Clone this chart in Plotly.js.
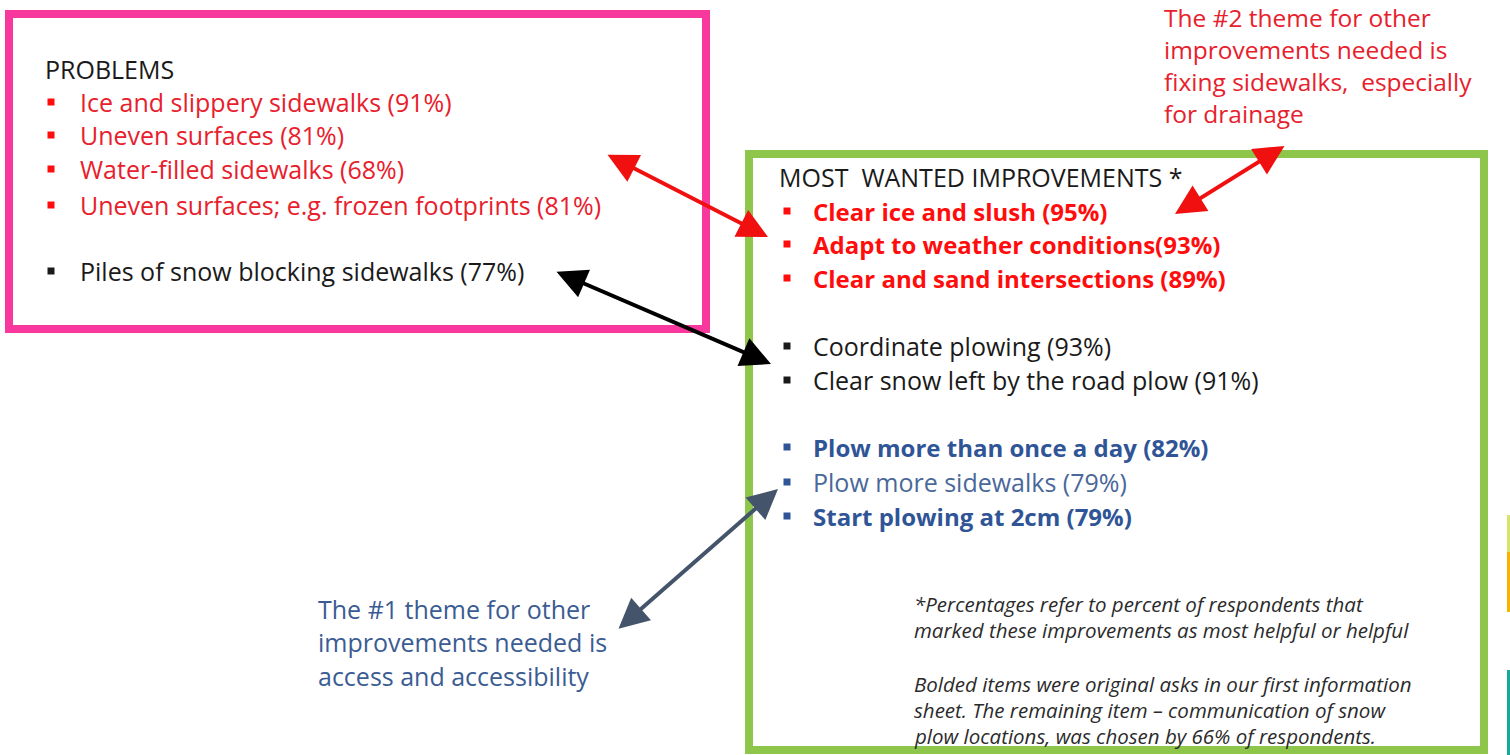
<!DOCTYPE html>
<html>
<head>
<meta charset="utf-8">
<script src="https://cdn.plot.ly/plotly-3.0.1.min.js"></script>
<style>html,body{margin:0;padding:0;background:#fff;}#chart{width:1510px;height:755px;}</style>
</head>
<body>
<div id="chart"></div>
<script>
// ---- content (text items) ----
const problemsHeader = "PROBLEMS";
const problemsRed = [
  "Ice and slippery sidewalks (91%)",
  "Uneven surfaces (81%)",
  "Water-filled sidewalks (68%)",
  "Uneven surfaces; e.g. frozen footprints (81%)"
];
const problemsBlack = ["Piles of snow blocking sidewalks (77%)"];

const improvementsHeader = "MOST  WANTED IMPROVEMENTS *";
const improvementsRed = [
  "Clear ice and slush (95%)",
  "Adapt to weather conditions(93%)",
  "Clear and sand intersections (89%)"
];
const improvementsBlack = [
  "Coordinate plowing (93%)",
  "Clear snow left by the road plow (91%)"
];
const improvementsBlue = [
  "Plow more than once a day (82%)",
  "Plow more sidewalks (79%)",
  "Start plowing at 2cm (79%)"
];
const improvementsBlueBold = [true, false, true];

const noteLines = [
  "*Percentages refer to percent of respondents that",
  "marked these improvements as most helpful or helpful",
  "",
  "Bolded items were original asks in our first information",
  "sheet. The remaining item \u2013 communication of snow",
  "plow locations, was chosen by 66% of respondents."
];
const theme2Lines = [
  "The #2 theme for other",
  "improvements needed is",
  "fixing sidewalks,  especially",
  "for drainage"
];
const theme1Lines = [
  "The #1 theme for other",
  "improvements needed is",
  "access and accessibility"
];

// ---- layout geometry ----
const FONT = "'Open Sans', Lato, sans-serif";
const FS = 25;
const FSB = 24;
const RED = "#ff0d0d";
const PRED = "#e8202c";
const BLUE = "#2f5597";
const BLUE2 = "#4a6899";
const DARK = "#1a1a1a";

const annotations = [];
const traces = [];

function addText(x, y, text, color, size, extra) {
  annotations.push(Object.assign({
    x: x, y: y, xref: "x", yref: "y", text: text, showarrow: false,
    xanchor: "left", yanchor: "middle", align: "left",
    font: {family: FONT, size: size, color: color}
  }, extra || {}));
}
function addBullets(x, ys, color) {
  traces.push({
    type: "scatter", mode: "markers", x: ys.map(() => x), y: ys,
    marker: {symbol: "square", size: 7, color: color, line: {width: 0}},
    hoverinfo: "skip", showlegend: false
  });
}

// Problems box
addText(43, 69, problemsHeader, DARK, 25);
const pRedY = [102, 135, 169, 205];
problemsRed.forEach((t, i) => addText(78, pRedY[i], t, PRED, FS));
addBullets(51, pRedY, RED);
const pBlackY = [271];
problemsBlack.forEach((t, i) => addText(78, pBlackY[i], t, DARK, FS));
addBullets(51, pBlackY, DARK);

// Improvements box
addText(777, 177, improvementsHeader, DARK, 25);
const iRedY = [211, 244, 278];
improvementsRed.forEach((t, i) => addText(811, iRedY[i], "<b>" + t + "</b>", RED, FSB));
addBullets(787, iRedY, RED);
const iBlackY = [346, 380];
improvementsBlack.forEach((t, i) => addText(811, iBlackY[i], t, DARK, FS));
addBullets(787, iBlackY, DARK);
const iBlueY = [447, 482, 516];
improvementsBlue.forEach((t, i) => addText(811, iBlueY[i],
  improvementsBlueBold[i] ? "<b>" + t + "</b>" : t,
  improvementsBlueBold[i] ? BLUE : BLUE2,
  improvementsBlueBold[i] ? FSB : FS));
addBullets(787, iBlueY, BLUE);

// Note
const noteY = [604, 630, 657, 684, 710, 736];
noteLines.forEach((t, i) => { if (t) addText(912, noteY[i], "<i>" + t + "</i>", "#2b2b2b", 20.5); });

// Theme callouts
const t2Y = [17, 49, 81, 113];
theme2Lines.forEach((t, i) => addText(1162, t2Y[i], t, PRED, 24.5));
const t1Y = [609, 642, 676];
theme1Lines.forEach((t, i) => addText(316, t1Y[i], t, "#3b5c93", FS));

// Double-headed arrows
function arrow(x0, y0, x1, y1, color) {
  annotations.push({
    x: x1, y: y1, ax: x0, ay: y0, xref: "x", yref: "y", axref: "x", ayref: "y",
    text: "", showarrow: true, arrowhead: 2, startarrowhead: 2, arrowside: "end+start",
    arrowwidth: 4, arrowsize: 1.5, startarrowsize: 1.5, arrowcolor: color,
    standoff: 0, startstandoff: 0
  });
}
arrow(606, 154, 768, 237, "#f01010");
arrow(555, 271, 771, 364, "#000000");
arrow(1286, 145, 1175, 214, "#f01010");
arrow(617, 630, 778, 489, "#44546a");

const shapes = [
  {type: "rect", xref: "x", yref: "y", x0: 9, y0: 14, x1: 706, y1: 329,
   line: {color: "#f8389c", width: 8}, fillcolor: "rgba(0,0,0,0)", layer: "below"},
  {type: "rect", xref: "x", yref: "y", x0: 749, y0: 154, x1: 1484, y1: 750,
   line: {color: "#8dc64b", width: 8}, fillcolor: "rgba(0,0,0,0)", layer: "below"},
  {type: "rect", xref: "x", yref: "y", x0: 1507, y0: 515, x1: 1511, y1: 552,
   line: {width: 0}, fillcolor: "#d6e46c"},
  {type: "rect", xref: "x", yref: "y", x0: 1507, y0: 552, x1: 1511, y1: 612,
   line: {width: 0}, fillcolor: "#f4b400"},
  {type: "rect", xref: "x", yref: "y", x0: 1507, y0: 670, x1: 1511, y1: 756,
   line: {width: 0}, fillcolor: "#17a99a"}
];

const layout = {
  width: 1510, height: 755,
  margin: {l: 0, r: 0, t: 0, b: 0},
  paper_bgcolor: "#ffffff", plot_bgcolor: "#ffffff",
  xaxis: {range: [0, 1510], visible: false, fixedrange: true},
  yaxis: {range: [755, 0], visible: false, fixedrange: true},
  showlegend: false,
  shapes: shapes,
  annotations: annotations
};

Plotly.newPlot("chart", traces, layout, {staticPlot: true, displayModeBar: false});
</script>
</body>
</html>
